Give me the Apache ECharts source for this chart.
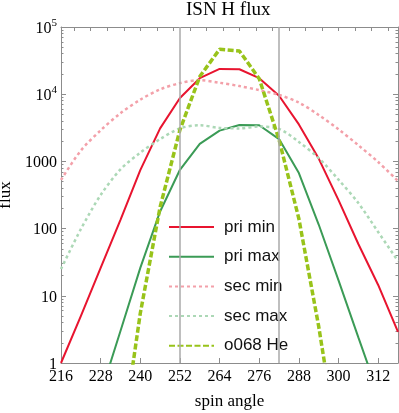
<!DOCTYPE html>
<html>
<head>
<meta charset="utf-8">
<script src="https://cdn.jsdelivr.net/npm/echarts@6/dist/echarts.min.js"></script>
<style>
html,body{margin:0;padding:0;background:#fff;}
#chart{width:399px;height:413px;}
</style>
</head>
<body>
<div id="chart"></div>
<script>
// ---- data ----
const angles = [216,222,228,234,240,246,252,258,264,270,276,282,288,294,300,306,312,318];
const priMin = [1.0, 5.0, 26, 135, 740, 3100, 8800, 17300, 23800, 23500, 17300, 9500, 3550, 1100, 265, 59, 14.5, 2.9];
const priMax = [null, null, 0.35, 3, 26, 180, 750, 1820, 2870, 3490, 3450, 2150, 670, 115, 17, 2.4, 0.35, null];
const secMin = [530, 1450, 2900, 5200, 8300, 11800, 14600, 16200, 14800, 13200, 11500, 9750, 7500, 4900, 3000, 1740, 980, 510];
const secMax = [25, 98, 316, 760, 1350, 2150, 3100, 3450, 3150, 3100, 3300, 3050, 1950, 1120, 535, 240, 89, 33];
const he068 = [null, null, null, 0.05, 5.5, 210, 2950, 18300, 46600, 44000, 17000, 2100, 140, 3.5, 0.05, null, null, null];
const seriesNames = ['pri min', 'pri max', 'sec min', 'sec max', 'o068 He'];
const xTicks = [216,228,240,252,264,276,288,300,312];
const xTopTicks = [220,225,230,235,240,245,250,255,260,265,270,275,280,285,290,295,300,305,310,315];
const yTicks = [1,10,100,1000,10000,100000];
const vLines = [252, 282];

const yMinor = [];
for (let d = 1; d < 100000; d *= 10) { for (let k = 2; k <= 9; k++) yMinor.push(d * k); }

const pairs = arr => angles.map((a, i) => [a, arr[i]]);
const serif = 'Liberation Serif';
const frameColor = '#8c8c8c';

function yLab(v) {
  if (v >= 10000) return '{b|10}{s|' + Math.round(Math.log10(v)) + '}';
  return '{b|' + v + '}';
}

const chart = echarts.init(document.getElementById('chart'), null, {renderer: 'canvas'});
const baseY = {
  type: 'log', logBase: 10, min: 1, max: 100000, gridIndex: 0,
  splitLine: {show: false}, minorTick: {show: false}, minorSplitLine: {show: false}
};
chart.setOption({
  animation: false,
  backgroundColor: '#fff',
  title: {
    text: 'ISN H flux', left: 186, top: 1, padding: 0,
    textStyle: {fontFamily: serif, fontSize: 19, fontWeight: 'normal', color: '#000'}
  },
  grid: {left: 61, right: 1, top: 27, bottom: 50, outerBoundsMode: 'none', containLabel: false},
  legend: {
    orient: 'vertical', left: 168, top: 217, itemWidth: 45, itemHeight: 14, itemGap: 9.7,
    padding: 0, selectedMode: false,
    itemStyle: {opacity: 0},
    data: seriesNames,
    textStyle: {fontFamily: 'Liberation Sans', fontSize: 17, lineHeight: 20, color: '#111', padding: [0, 0, 0, 5]}
  },
  xAxis: [{
    type: 'value', min: 216, max: 318, position: 'bottom',
    name: 'spin angle', nameLocation: 'middle', nameGap: 30,
    nameTextStyle: {fontFamily: serif, fontSize: 17, color: '#000'},
    axisLine: {show: true, lineStyle: {color: frameColor, width: 1}},
    axisTick: {show: true, inside: true, length: 5, customValues: xTicks, lineStyle: {color: frameColor}},
    axisLabel: {customValues: xTicks, fontFamily: serif, fontSize: 16, color: '#000', margin: 6},
    splitLine: {show: false}
  }, {
    type: 'value', min: 216, max: 318, position: 'top',
    axisLine: {show: true, lineStyle: {color: frameColor, width: 1}},
    axisTick: {show: true, inside: true, length: 4, customValues: xTopTicks, lineStyle: {color: frameColor}},
    axisLabel: {show: false},
    splitLine: {show: false}
  }],
  yAxis: [Object.assign({}, baseY, {
    position: 'left',
    name: 'flux', nameLocation: 'middle', nameGap: 33,
    nameTextStyle: {fontFamily: serif, fontSize: 17, color: '#000'},
    axisLine: {show: true, lineStyle: {color: frameColor, width: 1}},
    axisTick: {show: true, inside: true, length: 5, customValues: yTicks, lineStyle: {color: frameColor}},
    axisLabel: {
      customValues: yTicks, formatter: yLab, margin: 4, color: '#000',
      rich: {
        b: {fontFamily: serif, fontSize: 16, color: '#000', lineHeight: 19, verticalAlign: 'bottom'},
        s: {fontFamily: serif, fontSize: 11, color: '#000', lineHeight: 11, verticalAlign: 'top'}
      }
    }
  }), Object.assign({}, baseY, {
    position: 'left',
    axisLine: {show: false},
    axisTick: {show: true, inside: true, length: 2.5, customValues: yMinor, lineStyle: {color: frameColor}},
    axisLabel: {show: false}
  }), Object.assign({}, baseY, {
    position: 'right',
    axisLine: {show: true, lineStyle: {color: frameColor, width: 1}},
    axisTick: {show: true, inside: true, length: 5, customValues: yTicks, lineStyle: {color: frameColor}},
    axisLabel: {show: false}
  }), Object.assign({}, baseY, {
    position: 'right',
    axisLine: {show: false},
    axisTick: {show: true, inside: true, length: 2.5, customValues: yMinor, lineStyle: {color: frameColor}},
    axisLabel: {show: false}
  })],
  series: [{
    name: seriesNames[0], type: 'line', data: pairs(priMin), symbol: 'none', clip: true,
    lineStyle: {color: '#e8142f', width: 2}, itemStyle: {color: '#e8142f'},
    markLine: {
      silent: true, symbol: ['none', 'none'], label: {show: false},
      lineStyle: {color: '#aaaaaa', width: 1.5, type: 'solid'},
      data: vLines.map(v => ({xAxis: v}))
    }
  }, {
    name: seriesNames[1], type: 'line', data: pairs(priMax), symbol: 'none', clip: true,
    lineStyle: {color: '#3b9b56', width: 2}, itemStyle: {color: '#3b9b56'}
  }, {
    name: seriesNames[2], type: 'line', data: pairs(secMin), symbol: 'none', clip: true, smooth: 0.3,
    lineStyle: {color: '#f3a0a9', width: 2.5, type: [3, 3]}, itemStyle: {color: '#f3a0a9'}
  }, {
    name: seriesNames[3], type: 'line', data: pairs(secMax), symbol: 'none', clip: true, smooth: 0.3,
    lineStyle: {color: '#acd8b6', width: 2.5, type: [3, 3]}, itemStyle: {color: '#acd8b6'}
  }, {
    name: seriesNames[4], type: 'line', data: pairs(he068), symbol: 'none', clip: true,
    lineStyle: {color: '#98c31a', width: 3.5, type: [6, 2.5]}, itemStyle: {color: '#98c31a'}
  }]
});
</script>
</body>
</html>
